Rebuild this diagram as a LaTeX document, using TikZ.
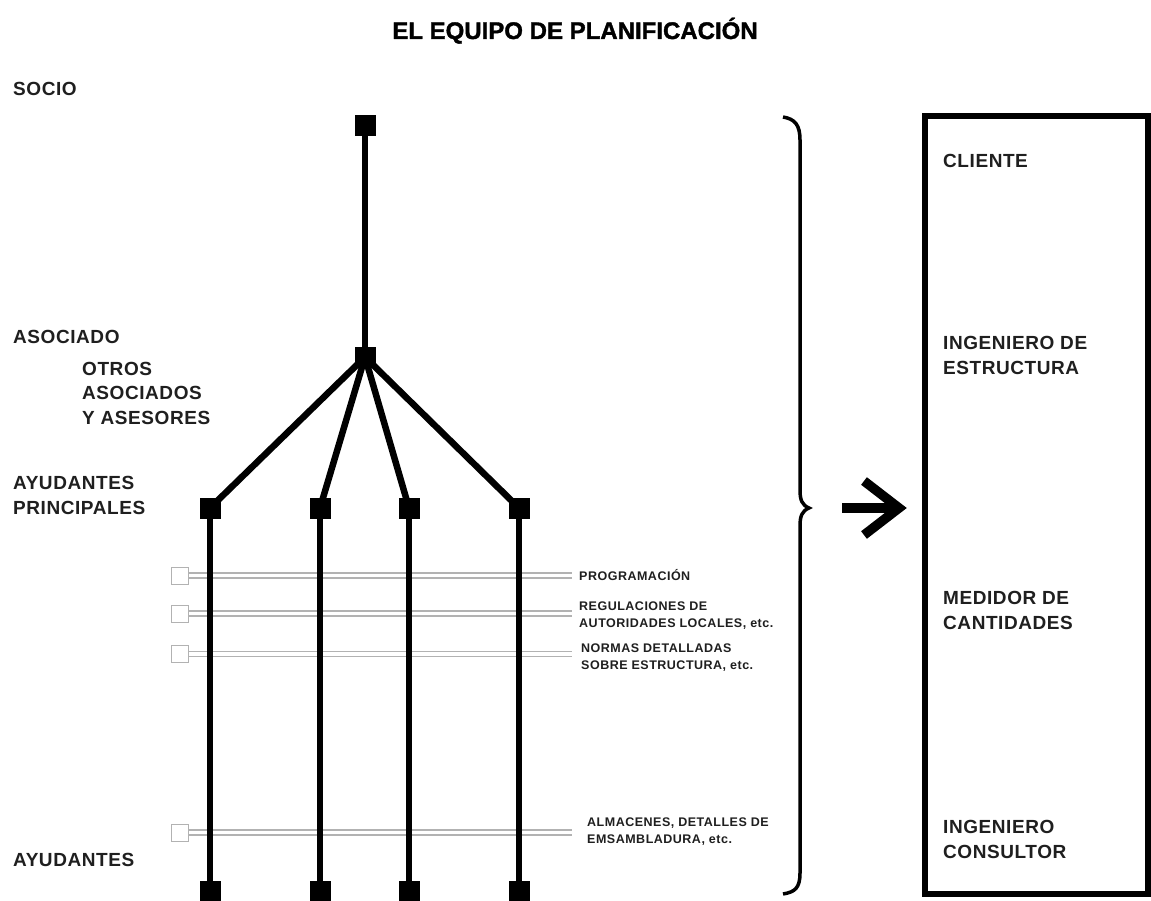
\documentclass[tikz,border=0pt]{standalone}
\usepackage{fontspec}
\setmainfont{Liberation Sans}
\newfontfamily\lblfont[LetterSpace=3]{Liberation Sans}
\newfontfamily\smallfont[LetterSpace=4]{Liberation Sans}
\newfontfamily\titlefont[FakeBold=1.5]{Liberation Sans}
\begin{document}
\begin{tikzpicture}[x=1pt,y=-1pt,
  lbl/.style={anchor=base west,inner sep=0pt,font=\lblfont\bfseries\fontsize{19}{24.5}\selectfont,align=left,text=black!88},
  small/.style={anchor=base west,inner sep=0pt,font=\smallfont\bfseries\fontsize{12.5}{17}\selectfont,align=left,text=black!88},
  sq/.style={fill=black,minimum size=21pt,inner sep=0pt},
  gsq/.style={draw=black!30,fill=white,minimum size=17pt,inner sep=0pt,line width=0.8pt},
  trunk/.style={line width=6.5pt},
  gline/.style={draw=black!30,line width=1.2pt}]
\useasboundingbox (0,0) rectangle (1151,901);
\fill[white] (0,0) rectangle (1151,901);
% title
\node[anchor=base,inner sep=0pt,font=\titlefont\bfseries\fontsize{24}{28}\selectfont] (title) at (575,39) {EL EQUIPO DE PLANIFICACIÓN};
% left labels (base = last line baseline)
\node[lbl] (socio) at (13,96) {SOCIO};
\node[lbl] (asociado) at (13,343) {ASOCIADO};
\node[lbl] (otros) at (82,424) {OTROS\\ASOCIADOS\\Y ASESORES};
\node[lbl] (ayp) at (13,514) {AYUDANTES\\PRINCIPALES};
\node[lbl] (ay) at (13,866) {AYUDANTES};
% squares
\node[sq] (s0) at (365,126) {};
\node[sq] (s1) at (365,357) {};
\foreach \i/\x in {1/210,2/320,3/409,4/519}{
  \node[sq] (p\i) at (\x,508) {};
  \node[sq] (b\i) at (\x,891) {};
}
\draw[trunk] (s0.center) -- (s1.center);
\foreach \i in {1,...,4}{
  \draw[trunk] (s1.center) -- (p\i.center);
}
% gray double lines
\foreach \n/\y in {g1/575.5,g2/613.5,g3/654,g4/832.5}{
  \node[gsq] (\n) at (180,\y) {};
  \coordinate (\n e) at (572,\y);
  \draw[gline] ([yshift=-2.5pt]\n.east) -- ([yshift=-2.5pt]\n e);
  \draw[gline] ([yshift=2.5pt]\n.east) -- ([yshift=2.5pt]\n e);
}
\foreach \i in {1,...,4}{
  \draw[trunk] (p\i.center) -- (b\i.center);
}
% small labels
\node[small] (prog) at (579,580) {PROGRAMACIÓN};
\node[small] (reg) at (579,627) {REGULACIONES DE\\AUTORIDADES LOCALES, etc.};
\node[small] (norm) at (581,669) {NORMAS DETALLADAS\\SOBRE ESTRUCTURA, etc.};
\node[small] (alm) at (587,843) {ALMACENES, DETALLES DE\\EMSAMBLADURA, etc.};
% brace
\draw[line width=3.5pt]
  (783,117) .. controls (795,119) and (800,125) .. (800,140)
  -- (800,490) .. controls (800,500) and (802,505) .. (809,508)
  .. controls (802,511) and (800,516) .. (800,526)
  -- (800,873) .. controls (800,888) and (795,892) .. (783,894);
% arrow
\coordinate (ar0) at (842,508);
\coordinate (ar1) at (896,508);
\draw[line width=9.5pt] (ar0) -- (ar1);
\draw[line width=9.5pt,miter limit=4] (864,481) -- (899,508) -- (864,535);
% box
\draw[line width=6pt] (925,116.5) rectangle (1148,893.5);
\node[lbl] (cliente) at (943,168) {CLIENTE};
\node[lbl] (ing) at (943,374) {INGENIERO DE\\ESTRUCTURA};
\node[lbl] (med) at (943,629) {MEDIDOR DE\\CANTIDADES};
\node[lbl] (cons) at (943,858) {INGENIERO\\CONSULTOR};
\end{tikzpicture}
\end{document}
